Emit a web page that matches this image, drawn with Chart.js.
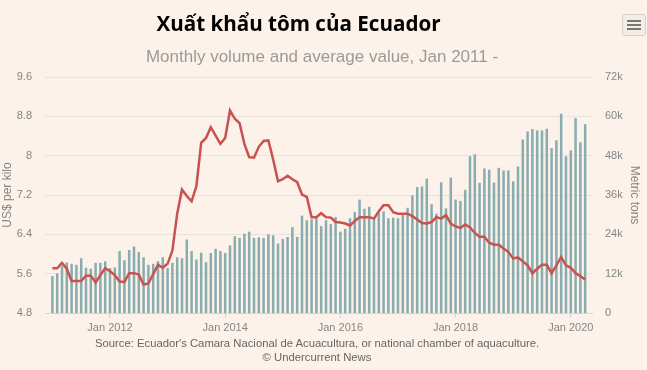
<!DOCTYPE html>
<html>
<head>
<meta charset="utf-8">
<script src="https://cdn.jsdelivr.net/npm/chart.js@4.4.1/dist/chart.umd.min.js"></script>
<style>
  body { margin: 0; background: #fcf2e9; }
  #cadre { position: relative; width: 647px; height: 370px; overflow: hidden; background: #fcf2e9; font-family: "Liberation Sans", Arial, sans-serif; }
  #titre { position: absolute; top: 9px; left: 0; width: 597px; text-align: center; font: bold 20.6px "Open Sans", sans-serif; color: #000; }
  #soustitre { position: absolute; top: 47px; left: 0; width: 644px; text-align: center; font-size: 17px; color: #9a9a9a; }
  #source { position: absolute; top: 336px; left: 0; width: 634px; text-align: center; font-size: 11.3px; line-height: 14px; color: #666; }
  #menu { position: absolute; left: 622px; top: 14px; width: 22px; height: 20px; border: 1px solid #d8d2cc; border-radius: 3px; background: #f4ede6; }
  #menu span { position: absolute; left: 4px; width: 14px; height: 2px; background: #777; }
  canvas { position: absolute; left: 0; top: 0; }
</style>
</head>
<body>
<div id="cadre">
  <canvas id="graphe" width="647" height="370"></canvas>
  <div id="titre">Xuất khẩu tôm của Ecuador</div>
  <div id="soustitre">Monthly volume and average value, Jan 2011 -</div>
  <div id="source">Source: Ecuador's Camara Nacional de Acuacultura, or national chamber of aquaculture.<br>© Undercurrent News</div>
  <div id="menu"><span style="top:5px"></span><span style="top:9px"></span><span style="top:13px"></span></div>
</div>
<script>
// données, de janvier 2011 à avril 2020
const anneeDebut = 2011;
const nomsMois = ['Jan', 'Feb', 'Mar', 'Apr', 'May', 'Jun', 'Jul', 'Aug', 'Sep', 'Oct', 'Nov', 'Dec'];
const etiquettesX = ['Jan 2012', 'Jan 2014', 'Jan 2016', 'Jan 2018', 'Jan 2020'];

// volume mensuel, en milliers de tonnes
const volume = [
  11.3, 12.1, 14.3, 15.4, 15.0, 14.7, 16.7, 13.8, 13.5, 15.3, 15.3, 15.8,
  13.7, 13.9, 18.9, 16.1, 19.2, 20.3, 18.6, 17.0, 14.7, 15.0, 15.8, 17.0,
  13.7, 15.3, 17.0, 16.7, 22.4, 18.9, 16.3, 18.4, 15.5, 18.3, 19.6, 18.9,
  18.3, 20.6, 23.4, 22.9, 24.2, 24.8, 22.9, 23.1, 22.9, 24.0, 23.7, 21.2,
  22.6, 23.2, 26.2, 23.2, 29.7, 28.3, 28.6, 29.2, 26.5, 28.3, 27.1, 29.3,
  24.8, 25.7, 28.9, 30.8, 34.6, 31.8, 32.4, 28.6, 30.6, 31.0, 28.9, 29.1,
  28.9, 30.1, 32.1, 35.9, 38.4, 38.6, 41.0, 33.2, 30.3, 39.9, 31.9, 41.3,
  34.6, 34.2, 37.6, 47.8, 48.4, 39.7, 44.1, 43.7, 39.8, 44.3, 43.5, 43.5,
  40.2, 44.7, 52.9, 55.4, 56.1, 55.7, 55.7, 56.2, 50.3, 52.7, 60.8, 47.8,
  49.6, 59.5, 52.1, 57.6
];

// prix moyen, US$ par kilo
const prix = [
  5.71, 5.71, 5.82, 5.70, 5.45, 5.45, 5.45, 5.56, 5.56, 5.42, 5.57, 5.71,
  5.65, 5.57, 5.44, 5.43, 5.61, 5.61, 5.58, 5.38, 5.40, 5.59, 5.78, 5.72,
  5.80, 6.07, 6.82, 7.31, 7.18, 7.07, 7.38, 8.26, 8.36, 8.58, 8.41, 8.24,
  8.36, 8.92, 8.75, 8.66, 8.24, 7.97, 7.96, 8.18, 8.30, 8.31, 7.92, 7.48,
  7.52, 7.59, 7.52, 7.46, 7.21, 7.16, 6.75, 6.75, 6.83, 6.75, 6.74, 6.65,
  6.64, 6.62, 6.58, 6.67, 6.75, 6.75, 6.75, 6.72, 6.87, 6.99, 6.99, 6.85,
  6.82, 6.82, 6.82, 6.77, 6.70, 6.63, 6.62, 6.65, 6.75, 6.72, 6.79, 6.62,
  6.56, 6.53, 6.60, 6.54, 6.43, 6.35, 6.35, 6.23, 6.19, 6.19, 6.11, 6.04,
  5.91, 5.93, 5.85, 5.77, 5.61, 5.70, 5.78, 5.78, 5.61, 5.77, 5.94, 5.77,
  5.72, 5.61, 5.55, 5.48
];

// une étiquette par mois
const mois = volume.map((v, i) => nomsMois[i % 12] + ' ' + (anneeDebut + Math.floor(i / 12)));

const gris = '#858585';
const police = { family: '"Liberation Sans", Arial, sans-serif', size: 11 };

function creerGraphe() {
  let context = document.getElementById('graphe').getContext('2d');
  let config = {
    type: 'bar',
    data: {
      datasets: [{
        type: 'line',
        label: 'US$ per kilo',
        data: prix.map((p, i) => ({ x: i, y: p })),
        yAxisID: 'yPrix',
        borderColor: '#c9524f',
        borderWidth: 2.5,
        pointRadius: 0,
        tension: 0,
        order: 0
      }, {
        type: 'bar',
        label: 'Metric tons',
        data: volume.map((v, i) => ({ x: i, y: v })),
        yAxisID: 'yVol',
        backgroundColor: '#88acb0',
        barPercentage: 0.52,
        categoryPercentage: 1,
        order: 1
      }]
    },
    options: {
      responsive: false,
      animation: false,
      layout: { padding: { top: 77, bottom: 35, left: 0, right: 0 } },
      plugins: { legend: { display: false }, tooltip: { enabled: false } },
      scales: {
        x: {
          type: 'linear',
          offset: false,
          min: -1.54,
          max: 112.42,
          afterBuildTicks: s => { s.ticks = etiquettesX.map(t => ({ value: mois.indexOf(t) })); },
          afterFit: s => { s.height = 22; },
          ticks: { callback: v => mois[v], autoSkip: false, maxRotation: 0, padding: 3, color: gris, font: police },
          grid: { drawOnChartArea: false, offset: false, tickLength: 5, color: '#ccd6eb' },
          border: { color: '#ccd6eb' }
        },
        yPrix: {
          position: 'left',
          min: 4.8,
          max: 9.6,
          afterFit: s => { s.width = 45; },
          ticks: { stepSize: 0.8, callback: v => String(Math.round(v * 10) / 10), padding: 13, color: gris, font: police },
          grid: { color: '#e6e2de', drawTicks: false },
          border: { display: false },
          title: { display: true, text: 'US$ per kilo', color: gris, font: { family: police.family, size: 12 }, padding: { top: 0, bottom: 0 } }
        },
        yVol: {
          position: 'right',
          min: 0,
          max: 72,
          afterFit: s => { s.width = 55; },
          ticks: { stepSize: 12, callback: v => v === 0 ? '0' : v + 'k', padding: 13, color: gris, font: police },
          grid: { display: false, drawTicks: false },
          border: { display: false },
          title: { display: true, text: 'Metric tons', color: gris, font: { family: police.family, size: 12 }, padding: { top: 5, bottom: 0 } }
        }
      }
    }
  };
  new Chart(context, config);
}

window.addEventListener('load', () => {
  creerGraphe();
});
</script>
</body>
</html>
